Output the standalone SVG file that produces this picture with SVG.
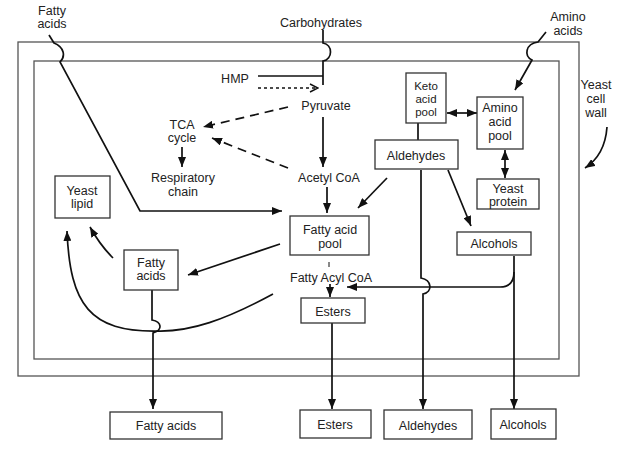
<svg xmlns="http://www.w3.org/2000/svg" width="640" height="453" viewBox="0 0 640 453">
<style>
text{font-family:"Liberation Sans",Arial,sans-serif;font-size:12.5px;fill:#222;text-anchor:middle}
.sm{font-size:11.5px}
.box{fill:#fff;stroke:#333;stroke-width:1.3}
.wall{fill:none;stroke:#555;stroke-width:1.3}
.c{fill:none;stroke:#111;stroke-width:1.7}
.d{stroke-dasharray:9,6}
.s{stroke-dasharray:3,3}
</style>
<defs>
<marker id="a" viewBox="0 0 10 8" refX="10" refY="4" markerWidth="10" markerHeight="8" markerUnits="userSpaceOnUse" orient="auto-start-reverse"><path d="M0,0 L10,4 L0,8 z" fill="#111"/></marker>
<marker id="o" viewBox="0 0 10 10" refX="9" refY="5" markerWidth="10" markerHeight="10" markerUnits="userSpaceOnUse" orient="auto"><path d="M1,1 L9,5 L1,9" fill="none" stroke="#111" stroke-width="1.4"/></marker>
</defs>
<rect width="640" height="453" fill="#fff"/>
<g id="walls">
<rect class="wall" x="18" y="42" width="561" height="334"/>
<rect class="wall" x="34" y="61" width="525" height="298"/>
</g>
<g id="connectors">
<path class="c" d="M49,35 L54,43 C64,47 66,56 60,62 L140,211 L282,211" marker-end="url(#a)"/>
<path class="c" d="M323,30 L323,43 C333,45 333,59 323,61 L323,85"/>
<path class="c" d="M258,76 L323,76"/>
<path class="c s" d="M258,88 L318,88" marker-end="url(#o)"/>
<path class="c" d="M323,117 L323,167" marker-end="url(#a)"/>
<path class="c d" d="M288,107 L203,127" marker-end="url(#a)"/>
<path class="c d" d="M288,168 L212,138" marker-end="url(#a)"/>
<path class="c" d="M182,147 L182,167" marker-end="url(#a)"/>
<path class="c" d="M327,187 L327,213" marker-end="url(#a)"/>
<path class="c" d="M387,178 L358,208" marker-end="url(#a)"/>
<path class="c" d="M280,244 L188,275" marker-end="url(#a)"/>
<path class="c" d="M113,258 Q100,245 90,227" marker-end="url(#a)"/>
<path class="c" d="M273,294 C225,320 190,332 157,331 C90,332 70,305 67,231" marker-end="url(#a)"/>
<path class="c" d="M152,290 L152,320 C162,322 163,330 153,333 L153,409" marker-end="url(#a)"/>
<path class="c" style="stroke-width:1" d="M329,262 L329,267"/>
<path class="c" d="M330,284 L330,297" marker-end="url(#a)"/>
<path class="c" d="M332,323 L332,409" marker-end="url(#a)"/>
<path class="c" d="M418,123 L418,140"/>
<path class="c" d="M421,170 L421,278 C432,280 433,292 423,294 L423,409" marker-end="url(#a)"/>
<path class="c" d="M448,170 L471,226" marker-end="url(#a)"/>
<path class="c" d="M514,256 L514,409" marker-end="url(#a)"/>
<path class="c" d="M514,272 Q514,287 500,287 L347,287" marker-end="url(#a)"/>
<path class="c" d="M546,32 L538,42 C525,44 524,56 532,60 L515,90" marker-end="url(#a)"/>
<path class="c" d="M447,113 L477,113" marker-start="url(#a)" marker-end="url(#a)"/>
<path class="c" d="M505,150 L505,178" marker-start="url(#a)" marker-end="url(#a)"/>
<path class="c" d="M607,127 Q605,155 585,168" marker-end="url(#a)"/>
</g>
<g id="fatty-acids-in"><text x="52" y="14.5">Fatty</text><text x="52" y="27.5">acids</text></g>
<g id="carbohydrates"><text x="321" y="26.5">Carbohydrates</text></g>
<g id="amino-acids-in"><text x="568" y="20.5">Amino</text><text x="568" y="34.5">acids</text></g>
<g id="yeast-cell-wall"><text x="596" y="88.5">Yeast</text><text x="596" y="102.5">cell</text><text x="596" y="116.5">wall</text></g>
<g id="hmp"><text x="235" y="82.5">HMP</text></g>
<g id="pyruvate"><text x="326" y="109.5">Pyruvate</text></g>
<g id="tca"><text x="182" y="128.5">TCA</text><text x="182" y="141.5">cycle</text></g>
<g id="respiratory"><text x="183" y="181.5">Respiratory</text><text x="183" y="195.5">chain</text></g>
<g id="acetyl-coa"><text x="329" y="181.5">Acetyl CoA</text></g>
<g id="keto-acid-pool"><rect class="box" x="406" y="73" width="40" height="50"/><text class="sm" x="426" y="90">Keto</text><text class="sm" x="426" y="103">acid</text><text class="sm" x="426" y="116">pool</text></g>
<g id="amino-acid-pool"><rect class="box" x="477" y="97" width="46" height="52"/><text x="500" y="111.5">Amino</text><text x="500" y="125.5">acid</text><text x="500" y="139.5">pool</text></g>
<g id="aldehydes"><rect class="box" x="375" y="140" width="83" height="29"/><text x="416" y="159.5">Aldehydes</text></g>
<g id="yeast-protein"><rect class="box" x="477" y="179" width="62" height="30"/><text x="508" y="192.5">Yeast</text><text x="508" y="205.5">protein</text></g>
<g id="yeast-lipid"><rect class="box" x="55" y="176" width="55" height="42"/><text x="82" y="194.5">Yeast</text><text x="82" y="207.5">lipid</text></g>
<g id="fatty-acid-pool"><rect class="box" x="290" y="216" width="79" height="39"/><text x="330" y="233.5">Fatty acid</text><text x="330" y="248">pool</text></g>
<g id="alcohols"><rect class="box" x="457" y="232" width="74" height="23"/><text x="494" y="247.5">Alcohols</text></g>
<g id="fatty-acids-box"><rect class="box" x="124" y="250" width="54" height="40"/><text x="151" y="266.5">Fatty</text><text x="151" y="279.5">acids</text></g>
<g id="fatty-acyl-coa"><text x="331" y="281.5">Fatty Acyl CoA</text></g>
<g id="esters"><rect class="box" x="301" y="298" width="64" height="25"/><text x="333" y="315.5">Esters</text></g>
<g id="out-fatty-acids"><rect class="box" x="110" y="412" width="112" height="27"/><text x="166" y="430">Fatty acids</text></g>
<g id="out-esters"><rect class="box" x="300" y="410" width="71" height="28"/><text x="335" y="429">Esters</text></g>
<g id="out-aldehydes"><rect class="box" x="384" y="410" width="88" height="29"/><text x="428" y="429.5">Aldehydes</text></g>
<g id="out-alcohols"><rect class="box" x="491" y="409" width="65" height="30"/><text x="523" y="429">Alcohols</text></g>
</svg>
